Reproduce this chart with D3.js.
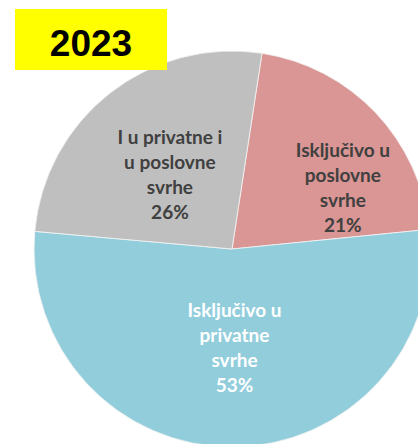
<!DOCTYPE html>
<html>
<head>
<meta charset="utf-8">
<script src="https://cdn.jsdelivr.net/npm/d3@7"></script>
<style>
  body { margin: 0; background: #fff; }
  svg { display: block; }
</style>
</head>
<body>
<script>
// chart data
var categories = ["Isključivo u poslovne svrhe", "Isključivo u privatne svrhe", "I u privatne i u poslovne svrhe"];
var values = [21, 53, 26];
var labelLines = [
  ["Isključivo u", "poslovne", "svrhe"],
  ["Isključivo u", "privatne", "svrhe"],
  ["I u privatne i", "u poslovne", "svrhe"]
];
var colors = ["#D99694", "#92CDDC", "#BFBFBF"];
var textColors = ["#404040", "#ffffff", "#404040"];
var yearLabel = "2023";

var width = 418, height = 444;
var cx = 232, cy = 249, radius = 198;

var svg = d3.select("body").append("svg")
    .attr("width", width)
    .attr("height", height);

// pie, first slice starts a bit right of 12 o'clock
var startA = 0.152;
var pie = d3.pie().sort(null).value(function(d) { return d; })
    .startAngle(startA).endAngle(startA + 2 * Math.PI);
var arcs = pie(values);

var arc = d3.arc().innerRadius(0).outerRadius(radius);
var labelArc = d3.arc().innerRadius(radius * 0.5).outerRadius(radius * 0.5);

var g = svg.append("g").attr("transform", "translate(" + cx + "," + cy + ")");

g.selectAll("path.slice")
  .data(arcs)
  .enter().append("path")
    .attr("class", "slice")
    .attr("d", arc)
    .attr("fill", function(d, i) { return colors[i]; })
    .attr("stroke", "#f4f4f4")
    .attr("stroke-width", 0.8);

// small nudges so labels sit like Excel put them
var nudge = [[39, 7], [2, 0], [-1, 3]];
var lineH = 25;

var labels = g.selectAll("text.lbl")
  .data(arcs)
  .enter().append("text")
    .attr("class", "lbl")
    .attr("text-anchor", "middle")
    .attr("font-family", "Lato, 'Open Sans', sans-serif")
    .attr("font-weight", "bold")
    .attr("font-size", "19px")
    .attr("fill", function(d, i) { return textColors[i]; })
    .attr("transform", function(d, i) {
      var c = labelArc.centroid(d);
      return "translate(" + (c[0] + nudge[i][0]) + "," + (c[1] + nudge[i][1]) + ")";
    });

labels.each(function(d, i) {
  var lines = labelLines[i].concat([values[i] + "%"]);
  var t = d3.select(this);
  var y0 = -((lines.length - 1) * lineH) / 2 + 7;
  lines.forEach(function(s, k) {
    t.append("tspan").attr("x", 0).attr("y", y0 + k * lineH).text(s);
  });
});

// yellow year box
svg.append("rect")
    .attr("x", 15).attr("y", 9)
    .attr("width", 152).attr("height", 61)
    .attr("fill", "#FFFF00");
svg.append("text")
    .attr("x", 91).attr("y", 56)
    .attr("text-anchor", "middle")
    .attr("font-family", "'Liberation Sans', Arial, sans-serif")
    .attr("font-weight", "bold")
    .attr("font-size", "37px")
    .attr("fill", "#000")
    .text(yearLabel);
</script>
</body>
</html>
